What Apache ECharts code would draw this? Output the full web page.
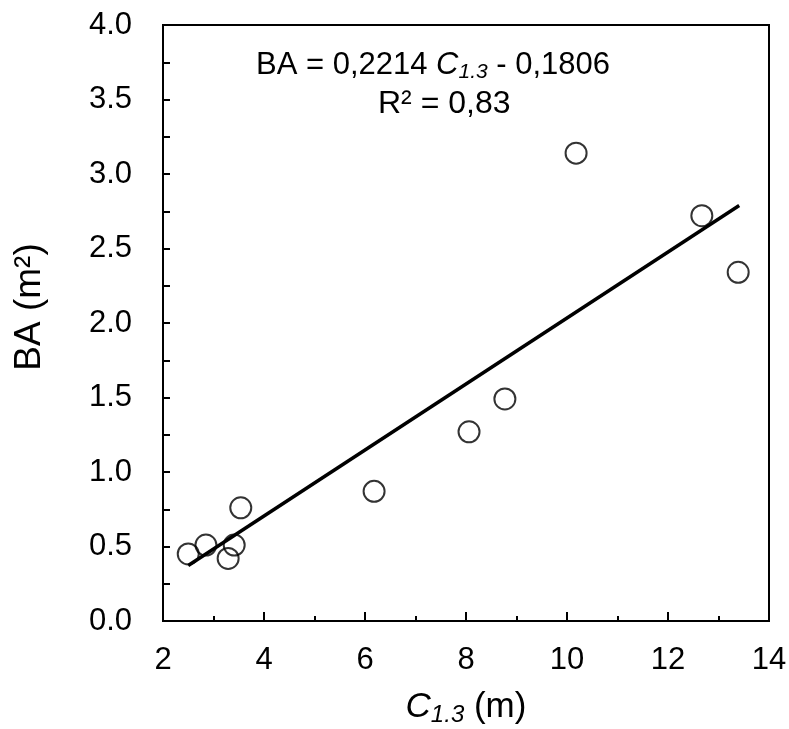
<!DOCTYPE html>
<html>
<head>
<meta charset="utf-8">
<script src="https://cdn.jsdelivr.net/npm/echarts@6/dist/echarts.min.js"></script>
<style>
html,body{margin:0;padding:0;background:#fff;}
#chart{width:789px;height:729px;}
</style>
</head>
<body>
<div id="chart"></div>
<script>
// Observed data: crown diameter C1.3 (m) vs basal area BA (m²)
const cValues = [2.50, 2.85, 3.29, 3.41, 3.54, 6.18, 8.06, 8.77, 10.18, 12.67, 13.39];
const baValues = [0.45, 0.51, 0.42, 0.51, 0.76, 0.87, 1.27, 1.49, 3.14, 2.72, 2.34];
// Regression line endpoints (BA = 0.2214 C - 0.1806)
const trendX = [2.50, 13.41];
const slope = 0.2214;
const intercept = -0.1806;
const xTicks = [2, 4, 6, 8, 10, 12, 14];
const yTicks = [0.0, 0.5, 1.0, 1.5, 2.0, 2.5, 3.0, 3.5, 4.0];

const points = cValues.map((c, i) => [c, baValues[i]]);
const trend = trendX.map(x => [x, slope * x + intercept]);

const FONT = '"Liberation Sans", Arial, sans-serif';
const chart = echarts.init(document.getElementById('chart'));
chart.setOption({
  animation: false,
  backgroundColor: '#fff',
  grid: { left: 163, right: 20, top: 25, bottom: 108, containLabel: false, outerBoundsMode: 'none',
          show: true, borderColor: '#000', borderWidth: 2, backgroundColor: 'transparent' },
  xAxis: {
    type: 'value', min: xTicks[0], max: xTicks[xTicks.length - 1], interval: 2,
    name: '{i|C}{s|1.3}{n| (m)}', nameLocation: 'middle', nameGap: 66,
    nameTextStyle: { rich: {
      i: { fontFamily: FONT, fontSize: 35, fontStyle: 'italic', color: '#000' },
      s: { fontFamily: FONT, fontSize: 24, fontStyle: 'italic', color: '#000', padding: [16, 0, 0, 0] },
      n: { fontFamily: FONT, fontSize: 35, color: '#000' }
    } },
    axisLine: { lineStyle: { color: '#000', width: 2 } },
    axisTick: { inside: true, length: 9, lineStyle: { color: '#000', width: 2 } },
    minorTick: { show: true, splitNumber: 2, length: 5, lineStyle: { color: '#000', width: 2 } },
    splitLine: { show: false },
    axisLabel: { fontFamily: FONT, fontSize: 31, color: '#000', margin: 24, formatter: v => String(v) }
  },
  yAxis: {
    type: 'value', min: yTicks[0], max: yTicks[yTicks.length - 1], interval: 0.5,
    name: 'BA (m²)', nameLocation: 'middle', nameGap: 115, nameRotate: 90,
    nameTextStyle: { fontFamily: FONT, fontSize: 37, color: '#000', padding: [0, 0, 0, 32] },
    axisLine: { show: true, lineStyle: { color: '#000', width: 2 } },
    axisTick: { inside: true, length: 7, lineStyle: { color: '#000', width: 2 } },
    minorTick: { show: true, splitNumber: 2, length: 7, lineStyle: { color: '#000', width: 2 } },
    splitLine: { show: false },
    axisLabel: { fontFamily: FONT, fontSize: 31, color: '#000', margin: 31, formatter: v => v.toFixed(1) }
  },
  graphic: [{
    type: 'text', left: 256, top: 50,
    style: {
      text: '{n|BA = 0,2214 }{i|C}{s|1.3}{n| - 0,1806}',
      rich: {
        n: { fontFamily: FONT, fontSize: 31, fill: '#000' },
        i: { fontFamily: FONT, fontSize: 31, fontStyle: 'italic', fill: '#000' },
        s: { fontFamily: FONT, fontSize: 21, fontStyle: 'italic', fill: '#000', padding: [13, 0, 0, 0] }
      }
    }
  }, {
    type: 'text', left: 378, top: 88,
    style: { text: 'R² = 0,83', fontFamily: FONT, fontSize: 32, fill: '#000' }
  }],
  series: [{
    type: 'line', data: trend, symbol: 'none',
    lineStyle: { color: '#000', width: 3.5 }, z: 2
  }, {
    type: 'scatter', data: points, symbol: 'circle', symbolSize: 21,
    itemStyle: { color: 'rgba(255,255,255,0)', borderColor: '#000', borderWidth: 2 }, z: 3
  }]
});
</script>
</body>
</html>
